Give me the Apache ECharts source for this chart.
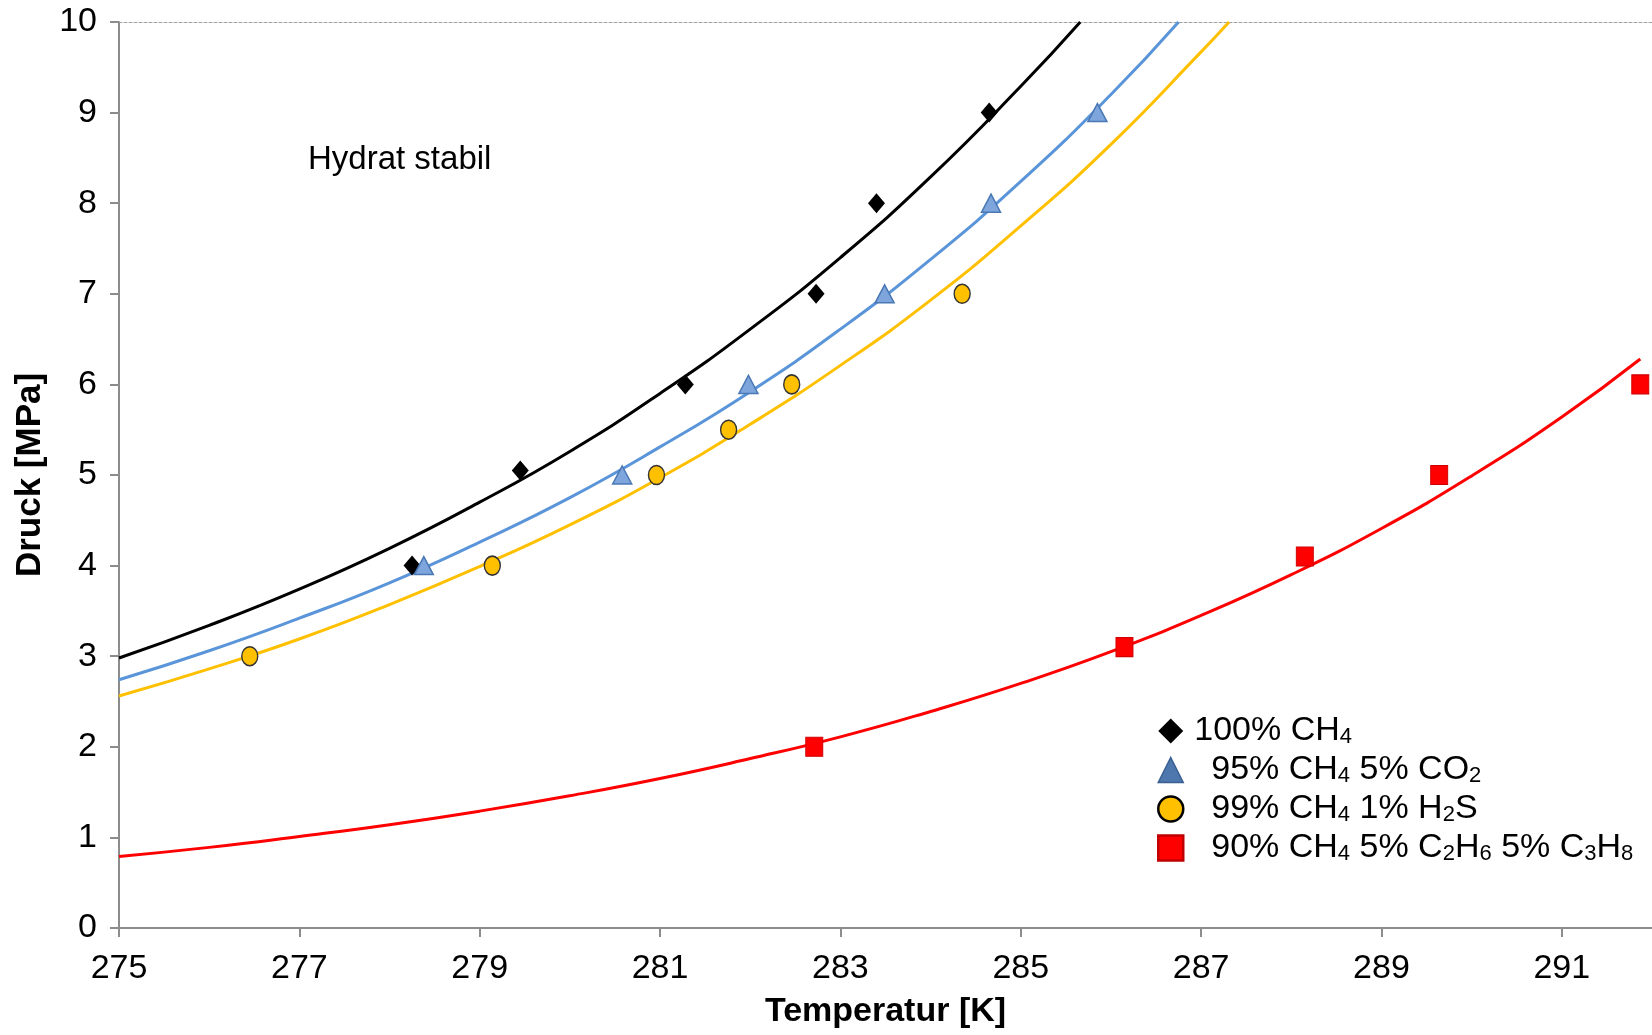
<!DOCTYPE html>
<html>
<head>
<meta charset="utf-8">
<script src="https://cdn.jsdelivr.net/npm/echarts@6/dist/echarts.min.js"></script>
<style>
  html, body { margin: 0; padding: 0; background: #fff; }
  #cht { width: 1652px; height: 1035px; }
</style>
</head>
<body>
<div id="cht"></div>
<script>
const FONT = '"Liberation Sans", Arial, sans-serif';

// tick labels on the temperature axis
const tempTicks = [275, 277, 279, 281, 283, 285, 287, 289, 291];

// measured points (temperature K, pressure MPa)
const ch4T = [278.25, 279.45, 281.28, 282.73, 283.40, 284.65];
const ch4P = [4.0, 5.05, 6.0, 7.0, 8.0, 9.0];
const co2T = [278.38, 280.58, 281.98, 283.49, 284.67, 285.85];
const co2P = [4.0, 5.0, 6.0, 7.0, 8.0, 9.0];
const h2sT = [276.45, 279.14, 280.96, 281.76, 282.46, 284.35];
const h2sP = [3.0, 4.0, 5.0, 5.5, 6.0, 7.0];
const c2c3T = [282.71, 286.15, 288.15, 289.64, 291.87];
const c2c3P = [2.0, 3.1, 4.1, 5.0, 6.0];

// trend lines
const ch4FitT = [275, 276, 277, 278, 279, 280, 281, 282, 283, 284, 285, 285.66];
const ch4FitP = [2.98, 3.34, 3.74, 4.19, 4.70, 5.26, 5.90, 6.61, 7.40, 8.29, 9.29, 10.0];
const co2FitT = [275, 276, 277, 278, 279, 280, 281, 282, 283, 284, 285, 286, 286.75];
const co2FitP = [2.74, 3.06, 3.42, 3.81, 4.26, 4.75, 5.31, 5.92, 6.61, 7.38, 8.24, 9.20, 10.0];
const h2sFitT = [275, 276, 277, 278, 279, 280, 281, 282, 283, 284, 285, 286, 287, 287.31];
const h2sFitP = [2.56, 2.86, 3.19, 3.57, 3.99, 4.45, 4.97, 5.56, 6.21, 6.93, 7.75, 8.65, 9.67, 10.0];
const c2c3FitT = [275, 276, 277, 278, 279, 280, 281, 282, 283, 284, 285, 286, 287, 288, 289, 290, 291, 291.87];
const c2c3FitP = [0.79, 0.89, 1.01, 1.14, 1.29, 1.46, 1.65, 1.87, 2.11, 2.39, 2.70, 3.05, 3.45, 3.90, 4.41, 4.99, 5.64, 6.28];

const names = ['100% CH4', '95% CH4 5% CO2', '99% CH4 1% H2S', '90% CH4 5% C2H6 5% C3H8'];
const legendText = {
  '100% CH4': '{g0|}{m|100% CH}{s|4}',
  '95% CH4 5% CO2': '{g1|}{m|95% CH}{s|4}{m| 5% CO}{s|2}',
  '99% CH4 1% H2S': '{g1|}{m|99% CH}{s|4}{m| 1% H}{s|2}{m|S}',
  '90% CH4 5% C2H6 5% C3H8': '{g1|}{m|90% CH}{s|4}{m| 5% C}{s|2}{m|H}{s|6}{m| 5% C}{s|3}{m|H}{s|8}'
};

const zip = (a, b) => a.map((v, i) => [v, b[i]]);

const cht = echarts.init(document.getElementById('cht'));

const fitLine = (data, color) => ({
  type: 'line',
  data: data,
  smooth: true,
  showSymbol: false,
  symbol: 'none',
  silent: true,
  lineStyle: { color: color, width: 3 },
  z: 2
});

const option = {
  animation: false,
  backgroundColor: '#fff',
  textStyle: { fontFamily: FONT },
  grid: { left: 119, right: 0, top: 22, bottom: 107 },
  xAxis: [
    {
      type: 'value',
      min: 275,
      max: 292,
      name: 'Temperatur [K]',
      nameLocation: 'middle',
      nameGap: 67,
      nameTextStyle: { fontFamily: FONT, fontSize: 34, fontWeight: 'bold', color: '#000' },
      axisLine: { lineStyle: { color: '#8c8c8c', width: 2 } },
      axisTick: { show: true, length: 9, lineStyle: { color: '#8c8c8c', width: 2 }, customValues: tempTicks },
      axisLabel: { fontFamily: FONT, fontSize: 34, color: '#000', margin: 24, customValues: tempTicks },
      splitLine: { show: false }
    },
    {
      type: 'value',
      position: 'top',
      min: 275,
      max: 292,
      axisLine: { show: true, lineStyle: { color: '#a0a0a0', width: 1, type: [3, 2] } },
      axisTick: { show: false },
      axisLabel: { show: false },
      splitLine: { show: false }
    }
  ],
  yAxis: {
    type: 'value',
    min: 0,
    max: 10,
    interval: 1,
    name: 'Druck [MPa]',
    nameLocation: 'middle',
    nameGap: 70,
    nameTextStyle: { fontFamily: FONT, fontSize: 35, fontWeight: 'bold', color: '#000' },
    axisLine: { show: true, lineStyle: { color: '#8c8c8c', width: 2 } },
    axisTick: { show: true, length: 9, lineStyle: { color: '#8c8c8c', width: 2 } },
    axisLabel: { fontFamily: FONT, fontSize: 34, color: '#000', margin: 22 },
    splitLine: { show: false }
  },
  legend: {
    orient: 'vertical',
    left: 1152,
    top: 709,
    itemWidth: 25,
    itemHeight: 25,
    itemGap: 5,
    selectedMode: false,
    data: [
      { name: names[0], icon: 'diamond', itemStyle: { color: '#000', borderWidth: 0 } },
      { name: names[1], icon: 'triangle', itemStyle: { color: '#4e77ad', borderColor: '#3a5f92', borderWidth: 1.5 } },
      { name: names[2], icon: 'circle', itemStyle: { color: '#ffc000', borderColor: '#000', borderWidth: 2.5 } },
      { name: names[3], icon: 'rect', itemStyle: { color: '#ff0000', borderColor: '#c00000', borderWidth: 2.5 } }
    ],
    formatter: name => legendText[name],
    textStyle: {
      color: '#000',
      fontFamily: FONT,
      fontSize: 34,
      rich: {
        m: { fontFamily: FONT, fontSize: 34, color: '#000', lineHeight: 32, verticalAlign: 'middle' },
        s: { fontFamily: FONT, fontSize: 22, color: '#000', lineHeight: 18, verticalAlign: 'bottom' },
        g0: { width: 6 },
        g1: { width: 23 }
      }
    }
  },
  graphic: [
    {
      type: 'text',
      left: 308,
      top: 143,
      style: { text: 'Hydrat stabil', font: '33px ' + FONT, fill: '#000' }
    }
  ],
  series: [
    fitLine(zip(ch4FitT, ch4FitP), '#000000'),
    fitLine(zip(co2FitT, co2FitP), '#5b95d9'),
    fitLine(zip(h2sFitT, h2sFitP), '#ffc000'),
    fitLine(zip(c2c3FitT, c2c3FitP), '#ff0000'),
    {
      name: names[0],
      type: 'scatter',
      data: zip(ch4T, ch4P),
      symbol: 'diamond',
      symbolSize: [17, 20],
      itemStyle: { color: '#000', opacity: 1 },
      z: 5
    },
    {
      name: names[1],
      type: 'scatter',
      data: zip(co2T, co2P),
      symbol: 'triangle',
      symbolSize: [19, 18],
      itemStyle: { color: '#7ea6dc', borderColor: '#4a78b5', borderWidth: 1.5, opacity: 1 },
      z: 5
    },
    {
      name: names[2],
      type: 'scatter',
      data: zip(h2sT, h2sP),
      symbol: 'circle',
      symbolSize: [16, 19],
      itemStyle: { color: '#ffc000', borderColor: '#333', borderWidth: 1.5, opacity: 1 },
      z: 5
    },
    {
      name: names[3],
      type: 'scatter',
      data: zip(c2c3T, c2c3P),
      symbol: 'rect',
      symbolSize: [17, 19],
      itemStyle: { color: '#ff0000', borderColor: '#d00000', borderWidth: 1, opacity: 1 },
      z: 5
    }
  ]
};

cht.setOption(option);
window.onresize = () => cht.resize();
</script>
</body>
</html>
